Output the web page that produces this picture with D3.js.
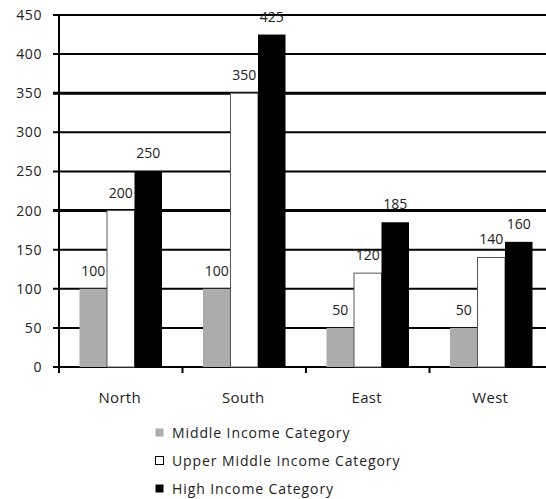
<!DOCTYPE html>
<html>
<head>
<meta charset="utf-8">
<script src="https://cdn.jsdelivr.net/npm/d3@7"></script>
<style>
  body { margin: 0; background: #fff; }
  text { font-family: "Open Sans", sans-serif; }
</style>
</head>
<body>
<svg id="chart" width="546" height="499"></svg>
<script>
var categories = ['North', 'South', 'East', 'West']
var seriesNames = ['Middle Income Category', 'Upper Middle Income Category', 'High Income Category']
var middle = [100, 100, 50, 50]
var upperMiddle = [200, 350, 120, 140]
var high = [250, 425, 185, 160]
var yTicks = [0, 50, 100, 150, 200, 250, 300, 350, 400, 450]

var fills = ['#acacac', '#ffffff', '#000000']
var series = [middle, upperMiddle, high]

var svg = d3.select('#chart')

var y = d3.scaleLinear().domain([0, 450]).range([367, 15])
var x0 = d3.scaleBand().domain(categories).range([59, 553]).paddingInner(0).paddingOuter(0)
var x1 = d3.scaleBand().domain(d3.range(3)).range([0, x0.bandwidth()]).paddingInner(0).paddingOuter(0.745)

// gridlines
svg.append('g')
    .selectAll('line')
    .data(yTicks)
    .enter()
    .append('line')
    .attr('x1', 53)
    .attr('x2', 546)
    .attr('y1', d => y(d))
    .attr('y2', d => y(d))
    .attr('stroke', '#000')
    .attr('stroke-width', d => (d == 350 || d == 200) ? 3 : 2)

// y tick labels
svg.append('g')
    .selectAll('text')
    .data(yTicks)
    .enter()
    .append('text')
    .attr('x', 42)
    .attr('y', d => y(d) + 5)
    .attr('text-anchor', 'end')
    .attr('font-size', '14px')
    .attr('letter-spacing', '0.6px')
    .attr('fill', '#222')
    .text(d => d)

// bars, each series followed by its labels so the next bar covers them
series.forEach(function (vals, s) {
    var g = svg.append('g')
    g.selectAll('rect')
        .data(vals)
        .enter()
        .append('rect')
        .attr('x', (d, i) => x0(categories[i]) + x1(s))
        .attr('y', d => y(d))
        .attr('width', x1.bandwidth())
        .attr('height', d => y(0) - y(d))
        .attr('fill', fills[s])
        .attr('stroke', s == 1 ? '#555' : 'none')
        .attr('stroke-width', 1)
    g.selectAll('text')
        .data(vals)
        .enter()
        .append('text')
        .attr('x', (d, i) => x0(categories[i]) + x1(s) + x1.bandwidth() / 2)
        .attr('y', d => y(d) - 13)
        .attr('text-anchor', 'middle')
        .attr('font-size', '14px')
        .attr('fill', '#222')
        .text(d => d)
})

// axes lines
svg.append('line')
    .attr('x1', 59).attr('x2', 59)
    .attr('y1', 15).attr('y2', 373)
    .attr('stroke', '#000').attr('stroke-width', 2)

svg.append('g')
    .selectAll('line')
    .data(categories)
    .enter()
    .append('line')
    .attr('x1', d => x0(d))
    .attr('x2', d => x0(d))
    .attr('y1', 367)
    .attr('y2', 373)
    .attr('stroke', '#000')
    .attr('stroke-width', 2)

// category labels
svg.append('g')
    .selectAll('text')
    .data(categories)
    .enter()
    .append('text')
    .attr('x', d => x0(d) + x0.bandwidth() / 2 - 1)
    .attr('y', 403)
    .attr('text-anchor', 'middle')
    .attr('font-size', '15px')
    .attr('letter-spacing', '0.3px')
    .attr('fill', '#222')
    .text(d => d)

// legend
var legend = svg.append('g')
    .selectAll('g')
    .data(seriesNames)
    .enter()
    .append('g')
    .attr('transform', (d, i) => 'translate(155,' + (428 + i * 28) + ')')
legend.append('rect')
    .attr('x', 0.5)
    .attr('y', 0.5)
    .attr('width', 8)
    .attr('height', 8)
    .attr('fill', (d, i) => fills[i])
    .attr('stroke', (d, i) => i == 1 ? '#000' : 'none')
legend.append('text')
    .attr('x', 17)
    .attr('y', 10)
    .attr('font-size', '14px')
    .attr('letter-spacing', '0.9px')
    .attr('fill', '#222')
    .text(d => d)
</script>
</body>
</html>
